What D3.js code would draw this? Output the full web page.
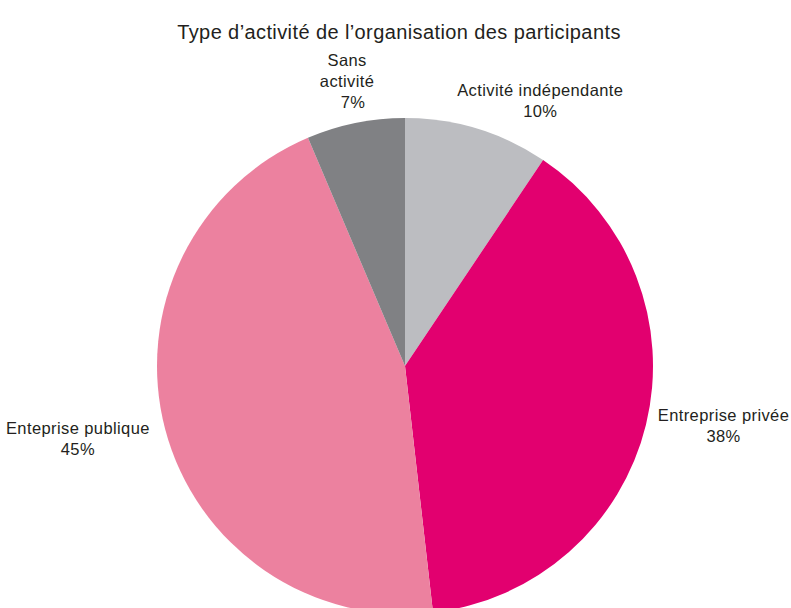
<!DOCTYPE html>
<html>
<head>
<meta charset="utf-8">
<script src="https://d3js.org/d3.v7.min.js"></script>
<style>
  body { margin: 0; background: #fff; }
  text { font-family: "Liberation Sans", Arial, sans-serif; fill: #231f20; }
</style>
</head>
<body>
<svg id="viz"></svg>
<script>
// slices, clockwise from 12 o'clock
var categories = ["Activité indépendante", "Entreprise privée", "Enteprise publique", "Sans activité"];
var values = [9.4, 38.8, 45.4, 6.4];
var percentLabels = ["10%", "38%", "45%", "7%"];
var labelLines = [["Activité indépendante"], ["Entreprise privée"], ["Enteprise publique"], ["Sans", "activité"]];
var colors = ["#bcbdc1", "#e2006f", "#ec819f", "#808184"];

var width = 791, height = 608;
var cx = 405, cy = 366, radius = 248;

// nudges from the label arc centroid, px
var nudge = [[48, 23], [27, -10], [-37, -3], [2, 10]];

var svg = d3.select("#viz")
  .attr("width", width)
  .attr("height", height);

svg.append("text")
  .attr("x", 399)
  .attr("y", 39)
  .attr("text-anchor", "middle")
  .style("font-size", "20px")
  .style("letter-spacing", "0.4px")
  .text("Type d’activité de l’organisation des participants");

var pie = d3.pie().sort(null).value(function(d) { return d; });
var arcs = pie(values);

var arc = d3.arc().innerRadius(0).outerRadius(radius);
var labelArc = d3.arc().innerRadius(300).outerRadius(300);

var g = svg.append("g").attr("transform", "translate(" + cx + "," + cy + ")");

g.selectAll("path")
  .data(arcs)
  .enter()
  .append("path")
  .attr("d", arc)
  .attr("fill", function(d, i) { return colors[i]; });

var labels = g.selectAll("g.label")
  .data(arcs)
  .enter()
  .append("g")
  .attr("class", "label")
  .attr("transform", function(d, i) {
    var c = labelArc.centroid(d);
    return "translate(" + (c[0] + nudge[i][0]) + "," + (c[1] + nudge[i][1]) + ")";
  });

labels.each(function(d, i) {
  var lines = labelLines[i].concat([percentLabels[i]]);
  var t = d3.select(this).append("text")
    .attr("text-anchor", "middle")
    .style("font-size", "16.5px")
    .style("letter-spacing", "0.4px");
  lines.forEach(function(s, k) {
    t.append("tspan")
      .attr("x", (k == lines.length - 1 && i == 3) ? 6 : 0)
      .attr("y", (k - (lines.length - 1) / 2) * 21 + 5)
      .text(s);
  });
});
</script>
</body>
</html>
